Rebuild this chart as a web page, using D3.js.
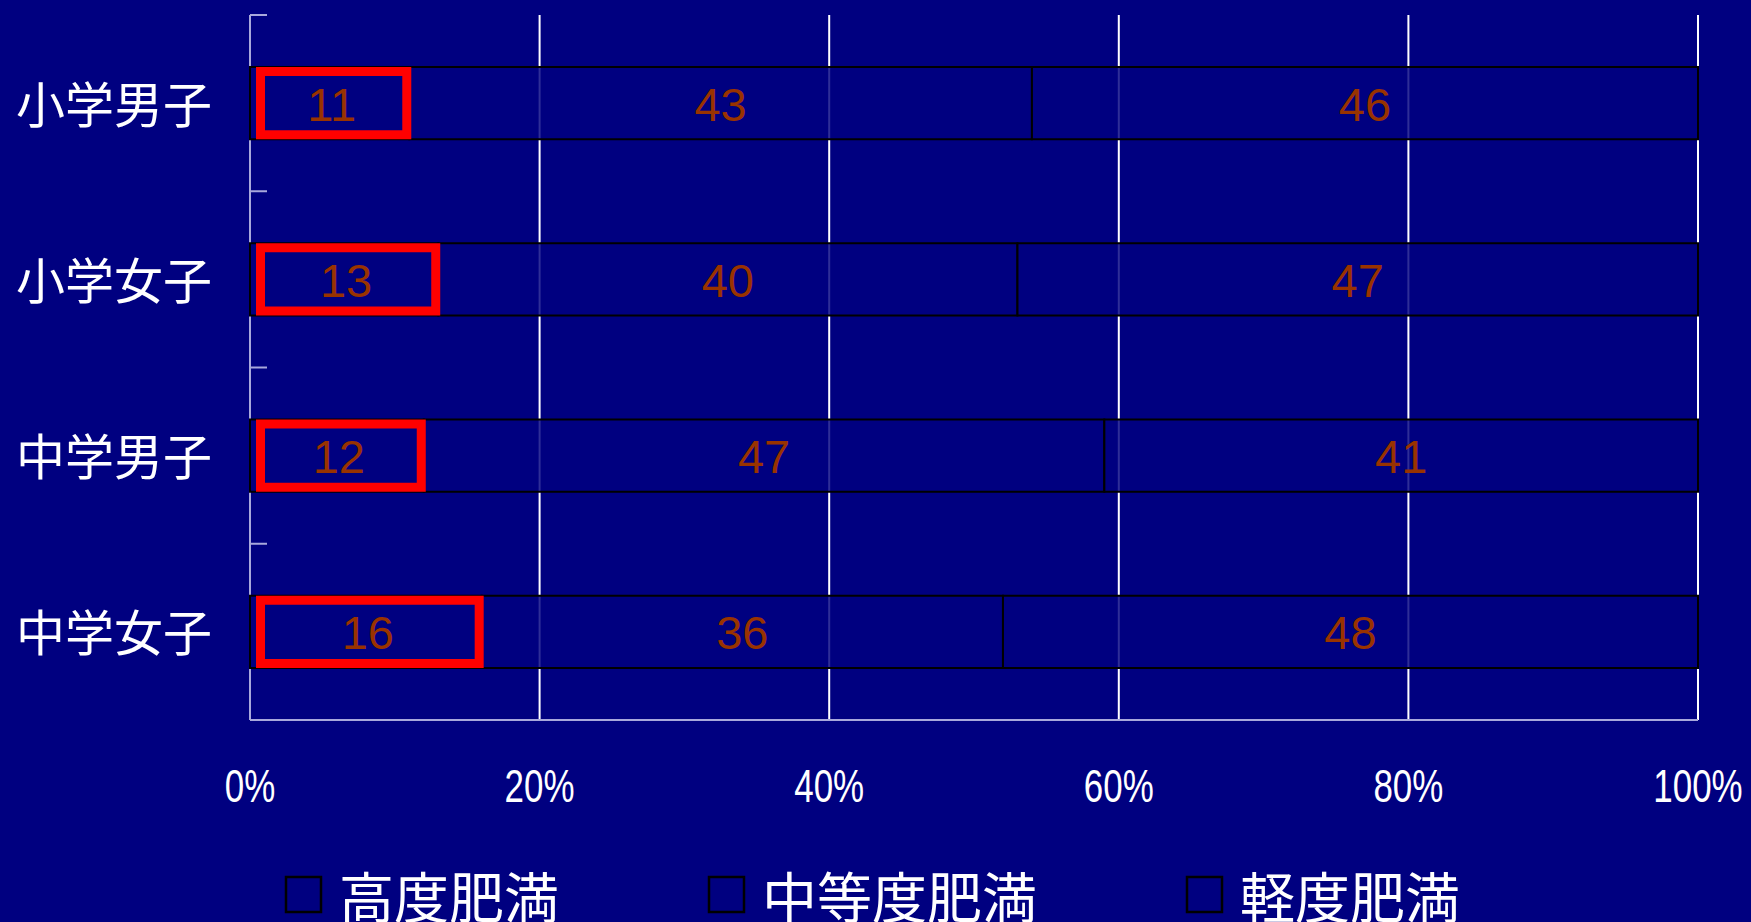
<!DOCTYPE html>
<html>
<head>
<meta charset="utf-8">
<script src="https://cdn.jsdelivr.net/npm/d3@7"></script>
<style>
  html, body { margin: 0; padding: 0; background: #000080; overflow: hidden; }
</style>
</head>
<body>
<svg id="chart"></svg>
<script>
// 肥満度の内訳 (%)
const categories = ["小学男子", "小学女子", "中学男子", "中学女子"];
const seriesNames = ["高度肥満", "中等度肥満", "軽度肥満"];
const high   = [11, 13, 12, 16];
const medium = [43, 40, 47, 36];
const light  = [46, 47, 41, 48];
const xTicks = [0, 20, 40, 60, 80, 100];

const W = 1751, H = 922;
const bg = "#000080";
const axisColor = "#a8a8dc";
const labelColor = "#993300";

const svg = d3.select("#chart").attr("width", W).attr("height", H);
svg.append("rect").attr("width", W).attr("height", H).attr("fill", bg);

const x = d3.scaleLinear().domain([0, 100]).range([250, 1698]);
const y = d3.scaleBand().domain(categories).range([15, 720])
    .paddingInner(0.59).paddingOuter(0.295);

// stacked rows
const rows = categories.map((c, i) => ({ cat: c, values: [high[i], medium[i], light[i]] }));
const stack = d3.stack().keys([0, 1, 2]).value((d, k) => d.values[k]);
const layers = stack(rows);

// gridlines
svg.append("g")
  .selectAll("line")
  .data(xTicks.slice(1))
  .join("line")
    .attr("x1", d => x(d)).attr("x2", d => x(d))
    .attr("y1", y.range()[0]).attr("y2", y.range()[1])
    .attr("stroke", "#ffffff")
    .attr("stroke-width", 2);

// left axis with inward ticks at band edges
const step = y.step();
const edges = d3.range(categories.length + 1).map(i => y.range()[0] + i * step);
const axisG = svg.append("g");
axisG.append("line")
  .attr("x1", x(0)).attr("x2", x(0))
  .attr("y1", y.range()[0]).attr("y2", y.range()[1])
  .attr("stroke", axisColor).attr("stroke-width", 2);
axisG.selectAll("line.tick")
  .data(edges)
  .join("line")
    .attr("class", "tick")
    .attr("x1", x(0)).attr("x2", x(0) + 17)
    .attr("y1", d => d).attr("y2", d => d)
    .attr("stroke", axisColor).attr("stroke-width", 2);
axisG.append("line")
  .attr("x1", x(0)).attr("x2", x(100))
  .attr("y1", y.range()[1]).attr("y2", y.range()[1])
  .attr("stroke", axisColor).attr("stroke-width", 2);

// bars
layers.forEach((layer, k) => {
  svg.append("g")
    .selectAll("rect")
    .data(layer)
    .join("rect")
      .attr("x", d => x(d[0]))
      .attr("y", d => y(d.data.cat))
      .attr("width", d => x(d[1]) - x(d[0]))
      .attr("height", y.bandwidth())
      .attr("fill", bg)
      .attr("fill-opacity", 0.82)
      .attr("stroke", "#000000")
      .attr("stroke-width", 2);
});

// red highlight on 高度肥満
const sw = 9;
svg.append("g")
  .selectAll("rect")
  .data(layers[0])
  .join("rect")
    .attr("x", d => x(d[0]) + 6 + sw / 2)
    .attr("y", d => y(d.data.cat) + sw / 2)
    .attr("width", d => x(d[1]) - x(d[0]) - 6 - sw + 2)
    .attr("height", y.bandwidth() - sw)
    .attr("fill", "none")
    .attr("stroke", "#ff0000")
    .attr("stroke-width", sw);

// value labels
layers.forEach((layer, k) => {
  svg.append("g")
    .selectAll("text")
    .data(layer)
    .join("text")
      .attr("x", d => (x(d[0]) + (k === 0 ? 4 : 0) + x(d[1])) / 2)
      .attr("y", d => y(d.data.cat) + y.bandwidth() / 2)
      .attr("dy", "0.37em")
      .attr("text-anchor", "middle")
      .attr("fill", labelColor)
      .style("font-family", "'Liberation Sans', Arial, sans-serif")
      .style("font-size", "47px")
      .text(d => d[1] - d[0]);
});

// category labels
svg.append("g")
  .selectAll("text")
  .data(categories)
  .join("text")
    .attr("x", 212)
    .attr("y", d => y(d) + y.bandwidth() / 2)
    .attr("dy", "0.4em")
    .attr("text-anchor", "end")
    .attr("fill", "#ffffff")
    .style("font-family", "'Noto Sans CJK JP', sans-serif")
    .style("font-size", "49px")
    .text(d => d);

// x tick labels (condensed like the original narrow face)
svg.append("g")
  .selectAll("text")
  .data(xTicks)
  .join("text")
    .attr("transform", d => `translate(${x(d)},802) scale(0.76,1)`)
    .attr("text-anchor", "middle")
    .attr("fill", "#ffffff")
    .style("font-family", "'Liberation Sans', Arial, sans-serif")
    .style("font-size", "46px")
    .text(d => d + "%");

// legend
const legendX = [286, 709, 1187];
const legend = svg.append("g")
  .selectAll("g")
  .data(seriesNames)
  .join("g")
    .attr("transform", (d, i) => `translate(${legendX[i]},877)`);
legend.append("rect")
  .attr("width", 35).attr("height", 35)
  .attr("fill", bg)
  .attr("stroke", "#000000")
  .attr("stroke-width", 2.5);
legend.append("text")
  .attr("x", 53)
  .attr("y", 41)
  .attr("fill", "#ffffff")
  .style("font-family", "'Noto Sans CJK JP', sans-serif")
  .style("font-size", "55px")
  .text(d => d);
</script>
</body>
</html>
